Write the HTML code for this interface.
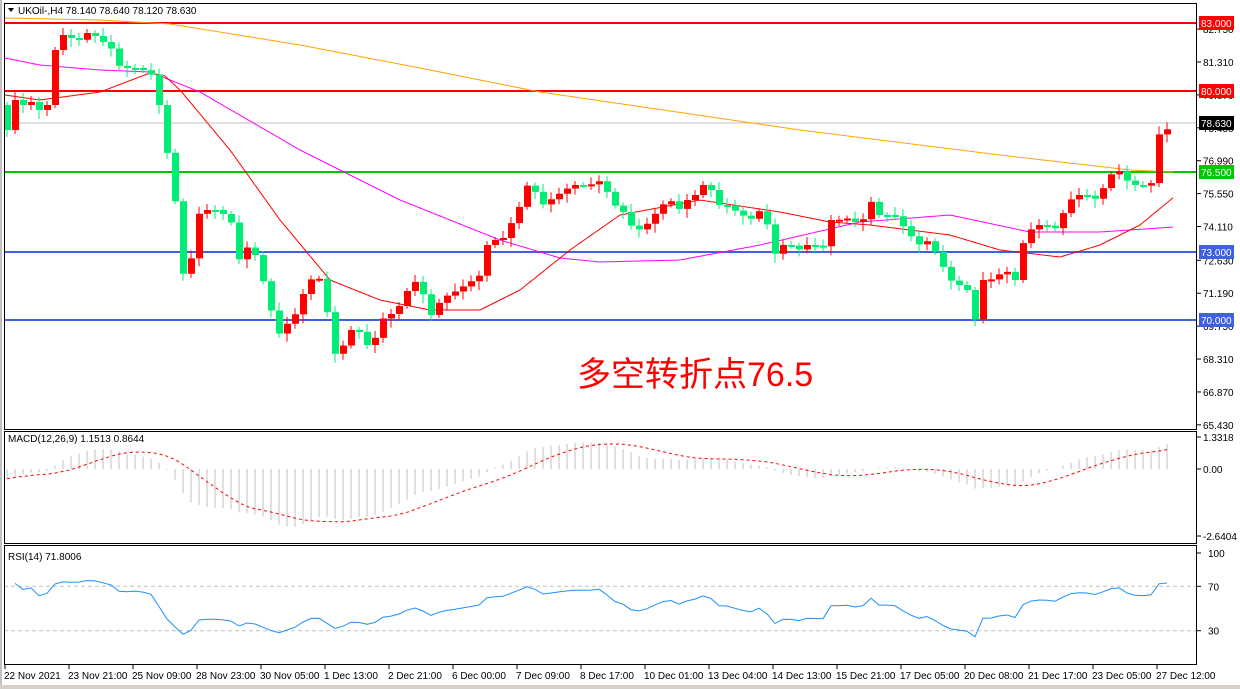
<!DOCTYPE html>
<html><head><meta charset="utf-8">
<style>
html,body{margin:0;padding:0;background:#fff;width:1240px;height:689px;overflow:hidden}
svg{display:block;font-family:"Liberation Sans","Noto Sans CJK SC",sans-serif}
</style></head>
<body>
<svg id="s" width="1240" height="689" xmlns="http://www.w3.org/2000/svg"></svg>
<script>
const S=document.getElementById('s');let h='';
const L=(x1,y1,x2,y2,c,w,d)=>h+=`<line x1="${x1}" y1="${y1}" x2="${x2}" y2="${y2}" stroke="${c}" stroke-width="${w||1}" ${d?`stroke-dasharray="${d}"`:''}/>`;
const T=(x,y,t,o)=>h+=`<text x="${x}" y="${y}" font-size="${(o&&o.fs)||10}" fill="${(o&&o.c)||'#000'}" ${o&&o.a?`text-anchor="${o.a}"`:''}>${t}</text>`;
function interp(a,x){for(let i=0;i<a.length-1;i++){if(x<=a[i+1][0]){const t=(x-a[i][0])/(a[i+1][0]-a[i][0]);return a[i][1]+t*(a[i+1][1]-a[i][1]);}}return a[a.length-1][1];}
const P=[[7,130],[15,100],[23,105],[31,102],[39,110],[47,105],[55,50],[63,35],[71,38],[80,40],[90,30],[100,42],[108,42],[120,68],[135,68],[150,72],[157,90],[165,150],[172,160],[180,270],[188,280],[197,215],[205,210],[215,210],[225,215],[233,225],[240,265],[250,240],[260,270],[268,300],[278,335],[285,325],[293,320],[300,300],[310,280],[318,275],[326,305],[333,355],[341,350],[350,330],[358,330],[366,345],[373,345],[380,320],[390,315],[400,305],[410,285],[418,280],[425,300],[433,320],[440,300],[448,295],[458,290],[465,285],[473,280],[480,275],[487,245],[495,240],[503,238],[510,225],[518,210],[526,185],[534,190],[542,205],[550,200],[557,195],[565,190],[572,185],[580,185],[590,185],[598,180],[606,190],[614,205],[622,210],[630,225],[638,230],[646,225],[654,215],[662,205],[670,200],[678,210],[687,200],[695,195],[703,185],[711,190],[718,205],[726,205],[734,210],[742,215],[750,220],[758,210],[766,220],[774,255],[782,245],[790,245],[798,250],[806,245],[814,245],[822,250],[830,220],[838,220],[846,218],[854,222],[862,222],[870,200],[878,215],[886,215],[894,215],[902,225],[910,235],[918,245],[926,240],[934,250],[942,265],[950,280],[958,285],[966,285],[974,325],[982,280],[990,280],[998,275],[1006,270],[1014,285],[1022,245],[1030,230],[1038,225],[1046,225],[1054,230],[1062,215],[1070,200],[1078,195],[1086,195],[1094,200],[1102,190],[1110,175],[1118,170],[1126,180],[1134,185],[1142,185],[1150,190],[1158,135],[1166,130],[1174,124]];
const yOf=p=>62+(81.31-p)*22.85, pOf=y=>81.31-(y-62)/22.85;
L(4,123,1197,123,'#c0c0c0',1);
L(4,23,1197,23,'#ff0000',2);L(4,91,1197,91,'#ff0000',2);
L(4,172,1197,172,'#00c800',2);L(4,252,1197,252,'#4060e0',2);L(4,320,1197,320,'#4060e0',2);
const poly=(a,c)=>{let s='';for(let x=5;x<=1174;x+=2)s+=x+','+interp(a,x).toFixed(1)+' ';h+=`<polyline points="${s}" fill="none" stroke="${c}" stroke-width="1"/>`;};
poly([[5,18],[100,20],[170,24],[300,45],[420,68],[540,92],[800,130],[1000,155],[1130,170],[1174,172]],'#ffa500');
poly([[5,58],[40,65],[100,70],[150,72],[200,92],[300,150],[400,200],[500,240],[560,258],[600,262],[680,260],[760,245],[860,222],[950,215],[1030,232],[1100,232],[1174,227]],'#ff00ff');
poly([[5,95],[40,100],[100,92],[150,73],[165,76],[180,90],[230,150],[280,220],[330,280],[380,300],[430,310],[480,310],[520,290],[570,250],[620,215],[700,200],[780,212],[830,222],[870,225],[950,235],[1000,250],[1060,257],[1100,245],[1140,225],[1174,197]],'#ff0000');
let closes=[];let prev=interp(P,7)-25;
for(let x=7;x<=1174;x+=8){const c=interp(P,x);const o=prev;const top=Math.min(o,c),bot=Math.max(o,c);
 const r=((x*37)%11);const hi=top-3-r%6,lo=bot+3+(r*3)%7;
 const bull=c<o;const col=bull?'#ff0000':'#00ee76';
 L(x,hi,x,lo,col,1);h+=`<rect x="${x-3}" y="${top}" width="7" height="${Math.max(2,bot-top)}" fill="${col}"/>`;
 closes.push(pOf(c));prev=c;}
const tick=[82.75,81.31,79.87,78.43,76.99,75.55,74.11,72.63,71.19,69.75,68.31,66.87,65.43];
tick.forEach(p=>{const y=yOf(p);L(1197,y,1201,y,'#000');T(1203,y+4,p.toFixed(3));});
const box=(y,t,bg,fc)=>{h+=`<rect x="1199" y="${y-7}" width="35" height="14" fill="${bg}"/>`;T(1201,y+4,t,{c:fc||'#fff'});};
box(23,'83.000','#ff0000');box(91,'80.000','#ff0000');box(123,'78.630','#000');box(172,'76.500','#00c800');box(252,'73.000','#4060e0');box(320,'70.000','#4060e0');
T(577,386,'多空转折点76.5',{fs:34,c:'#ff0000'});
let e12=closes[0]+0.4,e26=closes[0]+0.8,m=[];closes.forEach(c=>{e12+=(c-e12)*2/13;e26+=(c-e26)*2/27;m.push(e12-e26);});
let sig=m.map((v,i)=>{let s=0,n=0;for(let j=Math.max(0,i-8);j<=i;j++){s+=m[j];n++;}return s/n;});
const z=469,k=24;
m.forEach((v,i)=>{const x=7+i*8;L(x,z,x,z-v*k,'#c0c0c0',1);});
let ss='';sig.forEach((v,i)=>ss+=(7+i*8)+','+(z-v*k).toFixed(1)+' ');
h+=`<polyline points="${ss}" fill="none" stroke="#ff0000" stroke-width="1" stroke-dasharray="3,3"/>`;
[[437,'1.3318'],[469,'0.00'],[536,'-2.6404']].forEach(a=>{L(1197,a[0],1201,a[0],'#000');T(1203,a[0]+4,a[1]);});
T(8,442,'MACD(12,26,9) 1.1513 0.8644');
const ry=v=>664-v*1.11;
L(4,ry(70),1197,ry(70),'#c0c0c0',1,'4,3');L(4,ry(30),1197,ry(30),'#c0c0c0',1,'4,3');
let ag=0,al=0,rs='';for(let i=1;i<closes.length;i++){const d=closes[i]-closes[i-1];const g=Math.max(d,0),l=Math.max(-d,0);
 if(i<=14){ag+=g/14;al+=l/14;}else{ag=(ag*13+g)/14;al=(al*13+l)/14;}
 let r=al===0?100:100-100/(1+ag/al);r=50+(r-50)*0.85;if(i<16)r=50+(r-50)*(0.5+i/32);rs+=(7+i*8)+','+ry(r).toFixed(1)+' ';}
h+=`<polyline points="${rs}" fill="none" stroke="#1e90ff" stroke-width="1"/>`;
[[100,'100'],[70,'70'],[30,'30']].forEach(a=>{const y=ry(a[0]);L(1197,y,1201,y,'#000');T(1208,y+4,a[1]);});
T(8,560,'RSI(14) 71.8006');
h+=`<rect x="4.5" y="3.5" width="1192" height="426" fill="none" stroke="#000"/>`;
h+=`<rect x="4.5" y="431.5" width="1192" height="112" fill="none" stroke="#000"/>`;
h+=`<rect x="4.5" y="545.5" width="1192" height="119" fill="none" stroke="#000"/>`;
L(1,0,1,689,'#808080');
h+=`<path d="M8 8 L14 8 L11 12 Z" fill="#000"/>`;T(18,14,'UKOil-,H4  78.140 78.640 78.120 78.630');
const D=['22 Nov 2021','23 Nov 21:00','25 Nov 09:00','28 Nov 23:00','30 Nov 05:00','1 Dec 13:00','2 Dec 21:00','6 Dec 00:00','7 Dec 09:00','8 Dec 17:00','10 Dec 01:00','13 Dec 04:00','14 Dec 13:00','15 Dec 21:00','17 Dec 05:00','20 Dec 08:00','21 Dec 17:00','23 Dec 05:00','27 Dec 12:00'];
D.forEach((t,i)=>{const x=5+i*64;L(x,665,x,669,'#000');T(x-1,679,t);});
h+=`<rect x="0" y="685" width="1240" height="4" fill="#d4d0c8"/>`;
S.innerHTML=h;
</script>
</body></html>
